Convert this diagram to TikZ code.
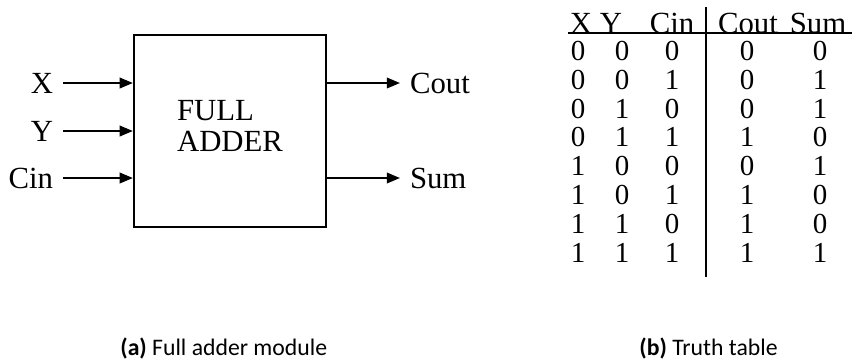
\documentclass[tikz,border=0pt]{standalone}
\usepackage{fontspec}
\setmainfont{Liberation Serif}
\newfontfamily\capfont{Carlito}
\usetikzlibrary{arrows.meta, positioning}

\begin{document}
\begin{tikzpicture}[
    x=0.02cm, y=-0.02cm,
    every node/.style={font=\fontsize{17.5}{18}\selectfont},
    block/.style={draw, line width=1.3pt, minimum width=3.84cm, minimum height=3.84cm, inner sep=0pt},
    port/.style={inner sep=5.5pt},
    head/.style={inner sep=0pt, anchor=base},
    bit/.style={font=\fontsize{16.5}{16.5}\selectfont, inner sep=0pt},
    caption/.style={font=\capfont\fontsize{13.5}{13.5}\selectfont, inner sep=0pt},
    wire/.style={->, line width=1.1pt},
    rule/.style={line width=1.2pt},
    >={Triangle[length=7.5pt, width=6pt]}
]
\useasboundingbox (0,0) rectangle (855,360);

% module
\node[block] (fa) at (230,131) {};
\node[align=left, inner sep=0pt] (falabel) at (230,126) {FULL\\ADDER};
\node[port, anchor=east] (x) at (63,83) {X};
\node[port, anchor=east] (y) at (63,131) {Y};
\node[port, anchor=east] (cin) at (63,178) {Cin};
\node[port, anchor=west] (cout) at (400,83) {Cout};
\node[port, anchor=west] (sum) at (400,178) {Sum};
\draw[wire] (x) -- (x -| fa.west);
\draw[wire] (y) -- (y -| fa.west);
\draw[wire] (cin) -- (cin -| fa.west);
\draw[wire] (fa.east |- cout) -- (cout);
\draw[wire] (fa.east |- sum) -- (sum);

% truth table
\node[head] (hx) at (581,33) {X};
\node[head] (hy) at (611,33) {Y};
\node[head] (hcin) at (672,33) {Cin};
\node[head] (hcout) at (748,33) {Cout};
\node[head] (hsum) at (818,33) {Sum};
\draw[rule] ([xshift=-1pt]hx.base west) -- ([xshift=3pt]hsum.base east);
\coordinate (vtop) at (706,7);
\coordinate (vbot) at (706,277);
\draw[rule] (vtop) -- (vbot);
\foreach \a/\b/\c/\co/\s [count=\i from 0] in
    {0/0/0/0/0, 0/0/1/0/1, 0/1/0/0/1, 0/1/1/1/0,
     1/0/0/0/1, 1/0/1/1/0, 1/1/0/1/0, 1/1/1/1/1}{
  \node[bit] (tx\i) at (578,{51+28.8*\i}) {\a};
  \node[bit] (ty\i) at (622,{51+28.8*\i}) {\b};
  \node[bit] (tcin\i) at (672,{51+28.8*\i}) {\c};
  \node[bit] (tcout\i) at (747,{51+28.8*\i}) {\co};
  \node[bit] (tsum\i) at (820,{51+28.8*\i}) {\s};
}

% captions
\node[caption, anchor=base west] (capa) at (120,355) {\textbf{(a)} Full adder module};
\node[caption, anchor=base east] (capb) at (778,355) {\textbf{(b)} Truth table};
\end{tikzpicture}
\end{document}
